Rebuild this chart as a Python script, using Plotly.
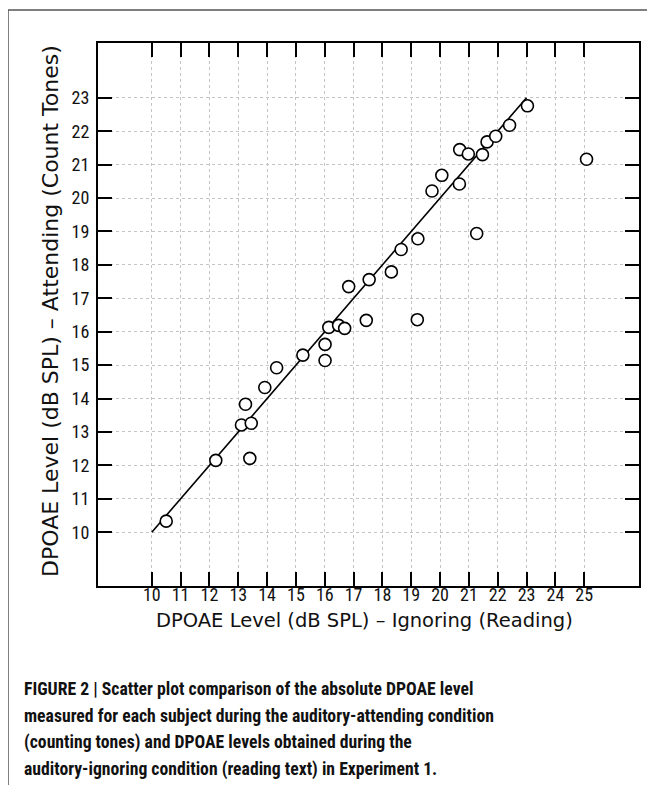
import plotly.graph_objects as go

# ---- data ----
ignoring = [10.50, 12.22, 13.40, 13.11, 13.45, 13.25, 13.92, 14.33, 15.24, 16.01,
            16.01, 16.14, 16.48, 16.69, 17.44, 19.21, 16.83, 17.54, 18.31, 18.65,
            19.23, 21.27, 19.72, 20.06, 20.67, 20.68, 20.98, 21.47, 21.63, 21.93,
            22.41, 23.03, 25.08]
attending = [10.33, 12.15, 12.21, 13.21, 13.26, 13.83, 14.33, 14.92, 15.30, 15.14,
             15.62, 16.13, 16.19, 16.10, 16.34, 16.36, 17.35, 17.56, 17.79, 18.46,
             18.78, 18.94, 20.21, 20.68, 20.42, 21.45, 21.32, 21.30, 21.68, 21.85,
             22.18, 22.76, 21.16]
fit_x = [10, 23]
fit_y = [10, 23]
x_ticks = list(range(10, 26))
y_ticks = list(range(10, 24))

x_title = "DPOAE Level (dB SPL) \u2013 Ignoring (Reading)"
y_title = "DPOAE Level (dB SPL) \u2013 Attending (Count Tones)"
caption_lines = [
    "FIGURE 2 | Scatter plot comparison of the absolute DPOAE level",
    "measured for each subject during the auditory-attending condition",
    "(counting tones) and DPOAE levels obtained during the",
    "auditory-ignoring condition (reading text) in Experiment 1.",
]

# ---- layout geometry (page has an 8px body margin) ----
OFF = 8
W, H = 655 - OFF, 785 - OFF
L, R, T, B = 98 - OFF, 24 - OFF, 43 - OFF, 207 - OFF
pw, ph = W - L - R, H - T - B


def px(x):
    return (x - OFF - L) / pw


def py(y):
    return (H - B - (y - OFF)) / ph


TICK_FONT = dict(family="Liberation Sans Narrow, Roboto Condensed, DejaVu Sans Condensed, Liberation Sans",
                 size=18, color="#111")
XTITLE_FONT = dict(family="DejaVu Sans, Liberation Sans, sans-serif", size=19.5, color="#111")
YTITLE_FONT = dict(family="DejaVu Sans, Liberation Sans, sans-serif", size=22, color="#111")
CAP_FONT = dict(family="Liberation Sans Narrow, Roboto Condensed, Liberation Sans", size=17.7, color="#111")

fig = go.Figure()
fig.add_trace(go.Scatter(x=fit_x, y=fit_y, mode="lines",
                         line=dict(color="black", width=1.6), hoverinfo="skip"))
fig.add_trace(go.Scatter(x=ignoring, y=attending, mode="markers",
                         marker=dict(symbol="circle", size=12, color="white",
                                     line=dict(color="black", width=1.6))))

axis_common = dict(
    showline=True, linewidth=2, linecolor="black", mirror="ticks",
    ticks="inside", ticklen=14, tickwidth=2, tickcolor="black",
    showgrid=True, gridcolor="#c4c4c4", gridwidth=1, griddash="dot",
    zeroline=False, tickfont=TICK_FONT,
)

fig.update_xaxes(range=[8.134, 26.90], tickvals=x_ticks,
                 ticktext=[str(v) for v in x_ticks], ticklabelstandoff=-9, **axis_common)
fig.update_yaxes(range=[8.39, 24.64], tickvals=y_ticks,
                 ticktext=[str(v) for v in y_ticks], ticklabelstandoff=3, **axis_common)

annotations = [
    dict(text=x_title, x=px(364.5), y=py(620), xref="paper", yref="paper",
         xanchor="center", yanchor="middle", showarrow=False, font=XTITLE_FONT),
    dict(text=y_title, x=px(50), y=py(311), xref="paper", yref="paper",
         xanchor="center", yanchor="middle", showarrow=False, textangle=-90, font=YTITLE_FONT),
]
cap_y = [689, 716, 742, 769]
for line, yy in zip(caption_lines, cap_y):
    annotations.append(dict(text="<b>" + line + "</b>", x=px(22), y=py(yy), xref="paper", yref="paper",
                            xanchor="left", yanchor="middle", showarrow=False, font=CAP_FONT))

shapes = [
    dict(type="line", xref="paper", yref="paper", x0=px(8), y0=py(10), x1=px(664), y1=py(10),
         line=dict(color="#555", width=1.5)),
    dict(type="line", xref="paper", yref="paper", x0=px(8), y0=py(10), x1=px(8), y1=py(800),
         line=dict(color="#555", width=1.5)),
]

fig.update_layout(
    width=W, height=H,
    margin=dict(l=L, r=R, t=T, b=B),
    paper_bgcolor="white", plot_bgcolor="white",
    showlegend=False, hovermode=False,
    annotations=annotations, shapes=shapes,
)

fig.write_html("out.html")
